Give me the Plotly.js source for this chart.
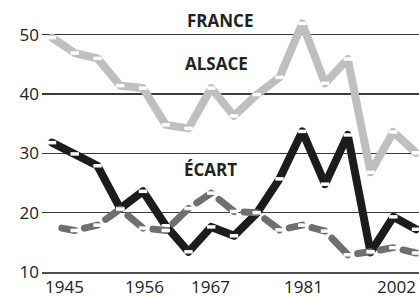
<!DOCTYPE html>
<html>
<head>
<meta charset="utf-8">
<script src="https://cdn.plot.ly/plotly-3.0.1.min.js"></script>
<style>
  html, body { margin: 0; padding: 0; background: #fff; }
  #chart { width: 419px; height: 297px; }
</style>
</head>
<body>
<div id="chart"></div>
<script>
// Legislative elections (x categories, evenly spaced)
const elections = ['1945', '1946 (juin)', '1946 (nov.)', '1951', '1956', '1958', '1962', '1967', '1968',
                   '1973', '1978', '1981', '1986', '1988', '1993', '1997', '2002'];
// Values (%)
const france = [49.5, 46.9, 46.0, 41.4, 41.0, 34.8, 34.2, 41.0, 36.3, 39.9, 42.8, 51.9, 41.8, 45.9, 26.8, 33.6, 30.1];
const alsace = [31.8, 29.9, 27.9, 20.7, 23.6, 17.8, 13.4, 17.6, 16.1, 19.9, 25.7, 33.7, 24.8, 33.1, 13.3, 19.3, 17.2];
const ecart  = [17.7, 17.0, 17.9, 20.6, 17.4, 17.0, 20.7, 23.3, 20.2, 20.0, 17.1, 17.9, 16.9, 12.9, 13.4, 14.1, 13.2];
// Tick labels shown on the x axis
const tickYears = ['1945', '1956', '1967', '1981', '2002'];
const tickShift = [12, 1, -1, 1, -20];   // label nudges (px)
// Y ticks
const yTicks = [10, 20, 30, 40, 50];

const xIdx = elections.map((_, i) => i);

// Segment-wise data for the dashed "écart" line
const segX = [], segY = [];
for (let i = 0; i < xIdx.length - 1; i++) {
  segX.push(xIdx[i], xIdx[i + 1], null);
  segY.push(ecart[i], ecart[i + 1], null);
}

const mk = { symbol: 'line-ew', size: 6, color: '#fff', line: { color: '#fff', width: 3.5 } };

const traces = [
  { x: xIdx, y: france, mode: 'lines+markers', line: { color: '#bfbfbf', width: 8 }, marker: mk, hoverinfo: 'skip' },
  { x: xIdx, y: alsace, mode: 'lines+markers', line: { color: '#1c1c1c', width: 8 }, marker: mk, hoverinfo: 'skip' },
  { x: segX, y: segY, mode: 'lines', line: { color: '#6f6f6f', width: 7, dash: '40px,10px' }, connectgaps: false, hoverinfo: 'skip' },
  { x: xIdx.slice(1), y: ecart.slice(1), mode: 'markers', marker: mk, hoverinfo: 'skip' }
];

const font = { family: '"Open Sans", "DejaVu Sans", sans-serif', color: '#222' };

const annotations = [
  { x: 7.38, y: 52.4, text: 'FRANCE' },
  { x: 7.25, y: 45.2, text: 'ALSACE' },
  { x: 6.95, y: 27.2, text: 'ÉCART' }
].map(a => Object.assign(a, {
  xref: 'x', yref: 'y', showarrow: false,
  font: Object.assign({}, font, { size: 17, weight: 700 })
}));

tickYears.forEach((t, k) => {
  annotations.push({
    x: elections.indexOf(t), y: 0, xref: 'x', yref: 'paper',
    yanchor: 'top', yshift: -2, xshift: tickShift[k], borderpad: 0,
    text: t, showarrow: false, font: Object.assign({}, font, { size: 17 })
  });
});

const layout = {
  width: 419, height: 297,
  margin: { l: 42, r: 0, t: 5, b: 25 },
  paper_bgcolor: '#fff', plot_bgcolor: '#fff',
  showlegend: false,
  xaxis: {
    range: [-0.44, 16.13], showgrid: false, zeroline: false,
    showticklabels: false, ticks: '',
    showline: true, linecolor: '#505050', linewidth: 2
  },
  yaxis: {
    range: [10, 55], tickvals: yTicks, ticktext: yTicks.map(String),
    showgrid: true, gridcolor: '#3a3a3a', gridwidth: 1.2, zeroline: false,
    ticks: '', ticklabelstandoff: 2,
    tickfont: Object.assign({}, font, { size: 17 })
  },
  annotations: annotations
};

Plotly.newPlot('chart', traces, layout, { staticPlot: true, displayModeBar: false }).then(() => {
  document.querySelectorAll('.scatterlayer path.js-line').forEach(p => {
    p.style.strokeLinejoin = 'round';
    p.style.strokeLinecap = 'round';
  });
  const traceGroups = document.querySelectorAll('.scatterlayer .trace');
  if (traceGroups[2]) {
    traceGroups[2].querySelectorAll('path.js-line').forEach(p => {
      p.style.strokeDashoffset = '40px';
    });
  }
});
</script>
</body>
</html>
